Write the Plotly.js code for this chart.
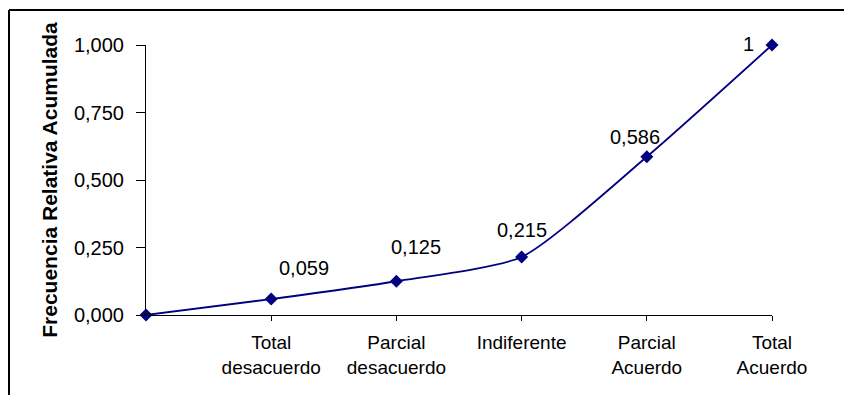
<!DOCTYPE html>
<html>
<head>
<meta charset="utf-8">
<script src="https://cdn.plot.ly/plotly-3.0.1.min.js"></script>
<style>
  html, body { margin: 0; padding: 0; background: #fff; }
  #chart { width: 844px; height: 395px; }
</style>
</head>
<body>
<div id="chart"></div>
<script>
// Data
const categories = ["", "Total<br>desacuerdo", "Parcial<br>desacuerdo", "Indiferente", "Parcial<br>Acuerdo", "Total<br>Acuerdo"];
const values = [0, 0.059, 0.125, 0.215, 0.586, 1];
const pointLabels = ["", "0,059", "0,125", "0,215", "0,586", "1"];
const yTicks = [0, 0.25, 0.5, 0.75, 1];

// Style: label offsets in px (dx, dy) relative to each point
const labelDx = [0, 33, 20, 0, -12, -24];
const labelDy = [0, 31, 34, 27, 20, 1];

const W = 844, H = 395;
const M = { l: 146, r: 72, t: 45, b: 80 };
const pw = W - M.l - M.r, ph = H - M.t - M.b;
const px = (x) => (x - M.l) / pw;
const py = (y) => (H - M.b - y) / ph;

const xIdx = categories.map((_, i) => i);
const FONT = "Liberation Sans, Arial, sans-serif";

const trace = {
  x: xIdx,
  y: values,
  type: "scatter",
  mode: "lines+markers",
  line: { color: "#000080", width: 1.8, shape: "spline", smoothing: 0.6 },
  marker: { symbol: "diamond", size: 10, color: "#000080" },
  cliponaxis: false,
  hoverinfo: "skip"
};

const annotations = [];
for (let i = 0; i < values.length; i++) {
  if (!pointLabels[i]) continue;
  annotations.push({
    x: xIdx[i], y: values[i], xref: "x", yref: "y",
    text: pointLabels[i], showarrow: false,
    xshift: labelDx[i], yshift: labelDy[i],
    font: { family: FONT, size: 20, color: "#000" }
  });
}

const layout = {
  width: W, height: H,
  margin: M,
  paper_bgcolor: "#fff", plot_bgcolor: "#fff",
  showlegend: false,
  separators: ",.",
  font: { family: FONT, size: 20, color: "#000" },
  xaxis: {
    range: [0, categories.length - 1],
    tickmode: "array",
    tickvals: xIdx.slice(1),
    ticktext: categories.slice(1),
    ticks: "outside", ticklen: 5, tickwidth: 1, tickcolor: "#000",
    showline: true, linecolor: "#000", linewidth: 1,
    showgrid: false, zeroline: false,
    ticklabelstandoff: 5,
    tickfont: { family: FONT, size: 19, color: "#000" },
    fixedrange: true
  },
  yaxis: {
    range: [0, 1],
    tickmode: "array",
    tickvals: yTicks,
    tickformat: ".3f",
    ticks: "outside", ticklen: 9, tickwidth: 1, tickcolor: "#000",
    showline: true, linecolor: "#000", linewidth: 1,
    showgrid: false, zeroline: false,
    ticklabelstandoff: 8,
    tickfont: { family: FONT, size: 20, color: "#000" },
    title: { text: "<b>Frecuencia Relativa Acumulada</b>", font: { family: FONT, size: 21, color: "#000" }, standoff: 10 },
    fixedrange: true
  },
  annotations: annotations,
  shapes: [
    { type: "line", xref: "paper", yref: "paper", x0: px(9), x1: px(9), y0: py(10), y1: py(H + 5), line: { color: "#000", width: 2 } },
    { type: "line", xref: "paper", yref: "paper", x0: px(9), x1: px(W + 5), y0: py(10), y1: py(10), line: { color: "#000", width: 2 } }
  ]
};

Plotly.newPlot("chart", [trace], layout, { displayModeBar: false, staticPlot: true });
</script>
</body>
</html>
